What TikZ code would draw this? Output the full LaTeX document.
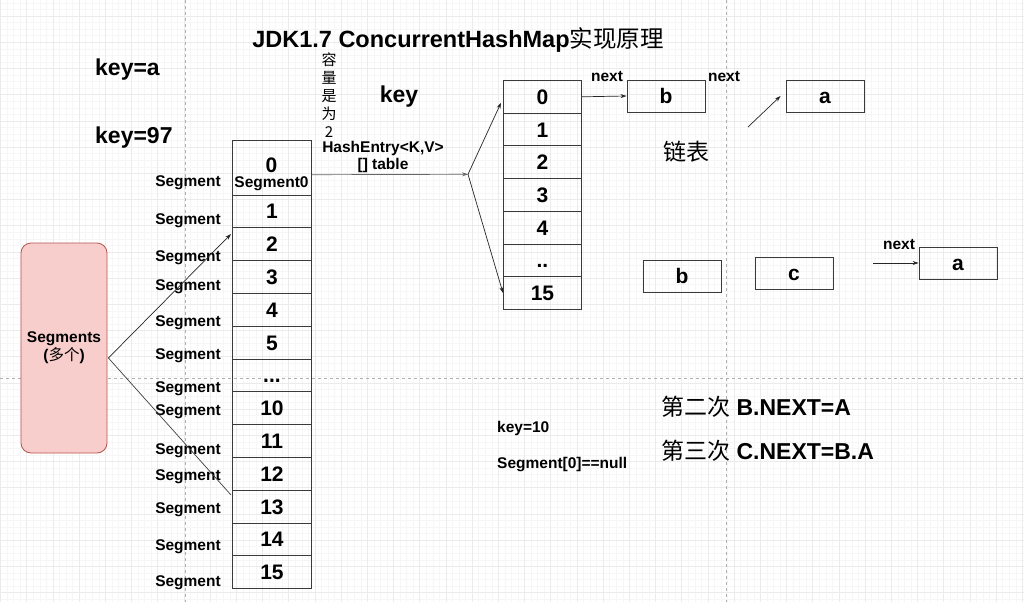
\documentclass[tikz,border=0pt]{standalone}
\usepackage{fontspec}
\setmainfont{Liberation Sans}
\newfontfamily\cjk{Noto Sans CJK SC}
\usepackage{tikz}
\usetikzlibrary{arrows.meta, positioning, calc}
\definecolor{gridmajor}{HTML}{EBEBEB}
\definecolor{gridminor}{HTML}{F6F6F6}
\definecolor{guide}{HTML}{AFAFAF}
\definecolor{boxline}{HTML}{3A3A3A}
\definecolor{segfill}{HTML}{F8CECC}
\definecolor{segline}{HTML}{B85450}
\newcommand\segdots{...}
\newcommand\entdots{..}

\begin{document}
\begin{tikzpicture}[x=1pt, y=-1pt,
    big/.style={font=\fontsize{23}{26}\selectfont\bfseries, inner sep=0pt},
    num/.style={font=\fontsize{21}{24}\selectfont\bfseries},
    lbl/.style={font=\fontsize{15.5}{18}\selectfont\bfseries, inner sep=0pt},
    cn/.style={font=\fontsize{23}{26}\selectfont\cjk, inner sep=0pt},
    cell/.style={draw=boxline, line width=0.9pt, minimum width=79pt, minimum height=32.8pt,
      inner sep=0pt, text height=15pt, text depth=0pt, anchor=north west, num},
    box/.style={draw=boxline, line width=0.9pt, minimum width=78pt, minimum height=32pt,
      inner sep=0pt, text height=15pt, text depth=0pt, num},
    arr/.style={draw=black!85, line width=0.7pt, -{Stealth[length=6pt,width=4pt]}},
    ln/.style={draw=black!75, line width=0.7pt}]
  \fill[white] (0,0) rectangle (1024,602);
  \useasboundingbox (0,0) rectangle (1024,602);
  % canvas grid
  \foreach \i in {0,...,156} \draw[gridminor, line width=0.5pt] ({0.5+6.55*\i},0) -- ++(0,602);
  \foreach \j in {-2,...,89} \draw[gridminor, line width=0.5pt] (0,{16.1+6.55*\j}) -- ++(1024,0);
  \foreach \i in {0,...,39} \draw[gridmajor, line width=0.7pt] ({0.5+26.2*\i},0) -- ++(0,602);
  \foreach \j in {0,...,22} \draw[gridmajor, line width=0.7pt] (0,{16.1+26.2*\j}) -- ++(1024,0);
  \draw[guide, line width=0.6pt, dash pattern=on 3pt off 3pt] (185,0) -- (185,602);
  \draw[guide, line width=0.6pt, dash pattern=on 3pt off 3pt] (726,0) -- (726,602);
  \draw[guide, line width=0.6pt, dash pattern=on 3pt off 3pt] (0,378) -- (1024,378);

  \node[big, font=\fontsize{23.5}{26}\selectfont\bfseries] (title) at (458,40) {JDK1.7 ConcurrentHashMap{\cjk\mdseries 实现原理}};
  \node[big, anchor=west] (keya) at (95,70) {key=a};
  \node[big, anchor=west] (key97) at (95,138) {key=97};
  \node[big] (key) at (399,97) {key};
  \node[font=\fontsize{15}{18}\selectfont\cjk, align=center, inner sep=0pt] (cap) at (329,95.5) {容\\量\\是\\为\\2};
  \node[lbl] (hentry) at (383,148) {HashEntry<K,V>};
  \node[lbl] (htable) at (383,165) {[] table};

  % segments
  \node[draw=segline, fill=segfill, rounded corners=10pt, line width=0.8pt,
    minimum width=86pt, minimum height=210pt, align=center,
    font=\fontsize{15.5}{18}\selectfont\bfseries] (segs) at (64,348) {Segments\\({\cjk\mdseries 多个})};
  \node[cell, minimum height=54.5pt] (s0) at (232,140) {};
  \node[num, inner sep=0pt] (s0num) at (271.5,165) {0};
  \node[lbl] (s0lbl) at (271.5,184) {Segment0};
  \foreach \lab [count=\i] in {1,2,3,4,5,\segdots,10,11,12,13,14,15}
    \node[cell] (s\i) at (232,{194.5+32.8*(\i-1)}) {\lab};
  \foreach \y [count=\i] in {183,221,258,287,323,356,389,412,451,477,510,547,583}
    \node[lbl] (sl\i) at (188,\y) {Segment};
  \coordinate (fork) at ($(segs.east)+(1,10)$);
  \coordinate (up) at (231,234);
  \coordinate (dn) at (231,495);
  \draw[arr] (fork) -- (up);
  \draw[ln] (fork) -- (dn);

  % HashEntry table
  \foreach \lab [count=\i from 0] in {0,1,2,3,4,\entdots,15}
    \node[cell, minimum width=78pt, minimum height=32.7pt] (e\i) at (503,{80+32.7*\i}) {\lab};
  \coordinate (hs) at ($(s0.east)+(0,7)$);
  \coordinate (split) at (468,174.3);
  \draw[arr, draw=black!60] (hs) -- (split);
  \draw[arr] (split) -- ([yshift=-6pt,xshift=-2pt]e0.west);
  \draw[arr] (split) -- (e6.west);

  % linked list
  \node[box] (b1) at (666,96) {b};
  \node[box] (a1) at (825,96) {a};
  \node[box] (b2) at (682,276) {b};
  \node[box] (c2) at (794,273) {c};
  \node[box] (a2) at (958,263) {a};
  \draw[arr] (e0.east) -- (b1.west);
  \node[lbl] (nx1) at (607,77) {next};
  \node[lbl] (nx2) at (724,77) {next};
  \coordinate (t1) at (748,127);
  \draw[arr] (t1) -- ([xshift=-5pt]a1.west);
  \node[cn] (chain) at (686,152) {链表};
  \coordinate (t2) at (873,263);
  \draw[arr] (t2) -- (a2.west);
  \node[lbl] (nx3) at (899,245) {next};

  \node[lbl, anchor=west] (k10) at (497,428) {key=10};
  \node[lbl, anchor=west] (snull) at (497,465) {Segment[0]==null};
  \node[big, anchor=west] (nxt2) at (661,407) {{\cjk\mdseries 第二次} B.NEXT=A};
  \node[big, anchor=west] (nxt3) at (661,451) {{\cjk\mdseries 第三次} C.NEXT=B.A};
\end{tikzpicture}
\end{document}
